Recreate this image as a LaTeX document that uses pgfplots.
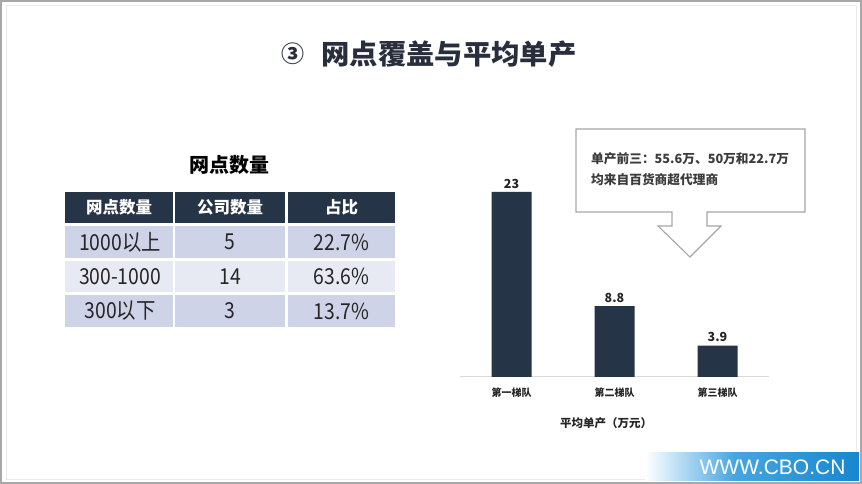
\documentclass[border=0pt]{standalone}
\usepackage{fontspec}
\usepackage{graphicx}
\setmainfont{Noto Sans CJK SC}
\newfontfamily\latinf{Liberation Sans}
\usepackage{pgfplots}
\pgfplotsset{compat=1.18}
\definecolor{navy}{RGB}{37,52,71}
\definecolor{rowA}{RGB}{207,211,231}
\definecolor{rowB}{RGB}{232,234,243}
\definecolor{titlec}{RGB}{40,46,60}
\definecolor{framec}{RGB}{168,168,168}
\definecolor{wmblueA}{RGB}{70,165,225}
\definecolor{wmblueB}{RGB}{22,135,208}
\definecolor{axisc}{RGB}{217,217,217}
\definecolor{txtc}{RGB}{38,38,38}
\definecolor{calloutc}{RGB}{166,166,166}
\begin{document}
\begin{tikzpicture}[x=1pt,y=1pt]
\useasboundingbox (0,0) rectangle (862,484);
\fill[white] (0,0) rectangle (862,484);
% frame
\draw[framec, line width=2pt] (1,1) rectangle (861,483);
\draw[black!8, line width=0.6pt] (6,5) rectangle (856,479);
% title
\node[titlec, font=\bfseries\fontsize{23pt}{28pt}\selectfont] at (292.5,430) {③};
\node[titlec, font=\bfseries\fontsize{27.5pt}{30pt}\selectfont] at (449,430) {\scalebox{1.03}[1]{网点覆盖与平均单产}};
% table title
\node[black, font=\bfseries\fontsize{20pt}{24pt}\selectfont] at (229,319) {网点数量};
% table cells
\fill[navy] (65,261) rectangle (173,292);
\fill[navy] (175,261) rectangle (285,292);
\fill[navy] (288,261) rectangle (395,292);
\fill[rowA] (65,226) rectangle (173,258);
\fill[rowA] (175,226) rectangle (285,258);
\fill[rowA] (288,226) rectangle (395,258);
\fill[rowB] (65,192) rectangle (173,223);
\fill[rowB] (175,192) rectangle (285,223);
\fill[rowB] (288,192) rectangle (395,223);
\fill[rowA] (65,157) rectangle (173,189);
\fill[rowA] (175,157) rectangle (285,189);
\fill[rowA] (288,157) rectangle (395,189);
\begin{scope}[every node/.style={white, font=\bfseries\fontsize{16.5pt}{20pt}\selectfont}]
\node at (119,276.5) {网点数量};
\node at (230,276.5) {公司数量};
\node at (341.5,276.5) {占比};
\end{scope}
\begin{scope}[every node/.style={txtc, font=\fontsize{22pt}{26pt}\selectfont, xscale=0.88}]
\node at (120,242) {1000以上};
\node at (230,242) {5};
\node at (341.5,242) {22.7\%};
\node at (120,207.5) {300-1000};
\node at (230,207.5) {14};
\node at (341.5,207.5) {63.6\%};
\node at (120,173) {300以下};
\node at (230,173) {3};
\node at (341.5,173) {13.7\%};
\end{scope}
% bar chart
\begin{axis}[
  at={(460pt,107pt)}, anchor=south west,
  scale only axis, width=309pt, height=201.1pt,
  xmin=-0.5, xmax=2.5, ymin=0, ymax=25,
  ybar, bar width=40pt,
  axis y line=none,
  axis x line=bottom,
  x axis line style={draw=axisc, line width=1pt, -},
  xtick={0,1,2},
  xticklabels={第一梯队,第二梯队,第三梯队},
  major tick length=0pt,
  xticklabel style={font=\bfseries\fontsize{10pt}{12pt}\selectfont, txtc, yshift=-7pt},
  nodes near coords,
  point meta=explicit symbolic,
  nodes near coords style={font=\bfseries\fontsize{12.5pt}{14pt}\selectfont, txtc},
  clip=false,
]
\addplot[fill=navy, draw=none] coordinates {(0,23) [23] (1,8.8) [8.8] (2,3.9) [3.9]};
\end{axis}
\node[txtc, font=\bfseries\fontsize{11.5pt}{14pt}\selectfont] at (606,61) {平均单产（万元）};
% callout
\draw[calloutc, fill=white, line width=1.1pt, line join=miter]
  (576,355) -- (805,355) -- (805,272) -- (707,272) -- (707,258) -- (721,258)
  -- (690,227) -- (658,258) -- (672,258) -- (672,272) -- (576,272) -- cycle;
\node[anchor=west, inner sep=0pt, txtc!90, font=\bfseries\fontsize{12.7pt}{15pt}\selectfont] at (591,325) {单产前三：55.6万、50万和22.7万};
\node[anchor=west, inner sep=0pt, txtc!90, font=\bfseries\fontsize{12.7pt}{15pt}\selectfont] at (591,304) {均来自百货商超代理商};
% watermark
\shade[left color=white, right color=wmblueA] (645,3) rectangle (735,31);
\shade[left color=wmblueA, right color=wmblueB] (735,3) rectangle (859,31);
\node[white, font=\latinf\fontsize{21pt}{24pt}\selectfont] at (772.5,16.5) {WWW.CBO.CN};
\end{tikzpicture}
\end{document}
